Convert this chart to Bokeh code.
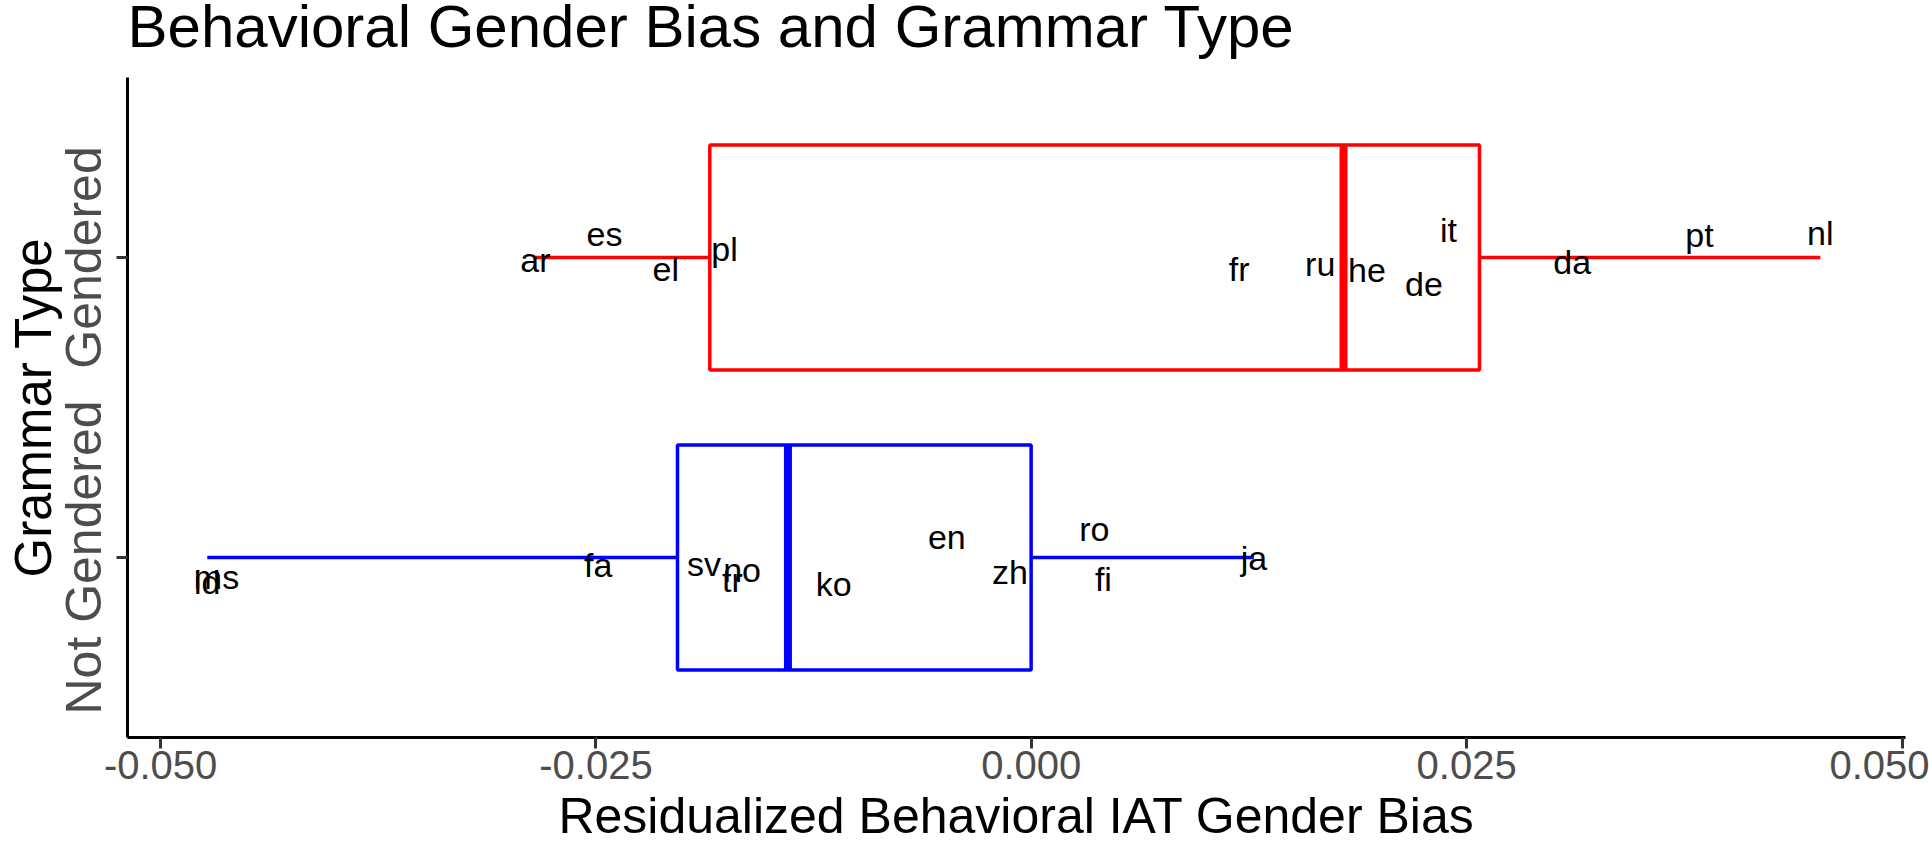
import numpy as np
from bokeh.plotting import figure
from bokeh.models import Range1d, FixedTicker, ColumnDataSource, Label
from bokeh.core.properties import value
from bokeh.embed import file_html
from bokeh.resources import INLINE

# ---------------- data ----------------
grammar_types = ["Not Gendered", "Gendered"]
type_colors = ["#0000FF", "#FF0000"]

gendered_langs = ["ar", "es", "el", "pl", "fr", "ru", "he", "de", "it", "da", "pt", "nl"]
gendered_bias = [-0.02848, -0.02451, -0.02099, -0.01762, 0.01194, 0.01659,
                 0.01927, 0.02255, 0.02396, 0.03106, 0.03837, 0.04531]
gendered_jitter = [-0.049, 0.040, -0.079, -0.012, -0.077, -0.060,
                   -0.082, -0.127, 0.051, -0.054, 0.034, 0.042]

notg_langs = ["ms", "id", "fa", "sv", "tr", "no", "ko", "en", "zh", "ro", "fi", "ja"]
notg_bias = [-0.04679, -0.04732, -0.02487, -0.01880, -0.01716, -0.01661,
             -0.01134, -0.00485, -0.00122, 0.00362, 0.00414, 0.01278]
notg_jitter = [-0.104, -0.123, -0.066, -0.063, -0.116, -0.082,
               -0.127, 0.029, -0.088, 0.054, -0.112, -0.043]

x_ticks = [-0.050, -0.025, 0.000, 0.025, 0.050]
x_tick_labels = ["-0.050", "-0.025", "0.000", "0.025", "0.050"]

FONT = "Liberation Sans"

p = figure(width=1929, height=846, output_backend="svg", toolbar_location=None,
           x_range=Range1d(-0.0519, 0.0502), y_range=Range1d(0.4, 2.6),
           min_border_left=127, min_border_right=24, min_border_top=77,
           min_border_bottom=109)
p.outline_line_color = None
p.xgrid.grid_line_color = None
p.ygrid.grid_line_color = None
p.background_fill_color = "white"
p.border_fill_color = "white"

# title as a label living in the "above" side panel (so it is not clipped to the frame)
title = Label(x=0, y=51, x_units="screen", y_units="screen",
              text="Behavioral Gender Bias and Grammar Type",
              text_font=FONT, text_font_size="60px", text_color="black",
              text_align="left", text_baseline="alphabetic")
p.add_layout(title, "above")

groups = [(notg_langs, notg_bias, notg_jitter), (gendered_langs, gendered_bias, gendered_jitter)]
half_w = 0.375
for gi, (langs, bias, jit) in enumerate(groups):
    pos = gi + 1
    color = type_colors[gi]
    b = np.array(bias)
    q1, med, q3 = np.percentile(b, [25, 50, 75])
    iqr = q3 - q1
    lo = b[b >= q1 - 1.5 * iqr].min()
    hi = b[b <= q3 + 1.5 * iqr].max()
    # whiskers
    p.segment(x0=[lo, q3], y0=[pos, pos], x1=[q1, hi], y1=[pos, pos],
              line_color=color, line_width=3.5)
    # box
    p.quad(left=[q1], right=[q3], bottom=[pos - half_w], top=[pos + half_w],
           fill_color=None, line_color=color, line_width=3.5)
    # median
    p.segment(x0=[med], y0=[pos - half_w], x1=[med], y1=[pos + half_w],
              line_color=color, line_width=8)
    src = ColumnDataSource(dict(x=list(bias), y=[pos + j for j in jit], t=list(langs)))
    p.text(x="x", y="y", text="t", source=src, text_font=value(FONT),
           text_font_size="34px", text_color="black", text_align="center",
           text_baseline="alphabetic", y_offset=-12)

# x axis
xa = p.xaxis[0]
xa.ticker = FixedTicker(ticks=x_ticks)
xa.major_label_overrides = {t: l for t, l in zip(x_ticks, x_tick_labels)}
xa.axis_label = "Residualized Behavioral IAT Gender Bias"
xa.axis_label_text_font = FONT
xa.axis_label_text_font_size = "50px"
xa.axis_label_text_font_style = "normal"
xa.axis_label_text_color = "black"
xa.axis_label_text_line_height = 1.0
xa.axis_label_standoff = 6
xa.major_label_text_font = FONT
xa.major_label_text_font_size = "40px"
xa.major_label_text_color = "#4D4D4D"
xa.major_label_text_line_height = 1.0
xa.major_label_standoff = 2

# y axis
ya = p.yaxis[0]
ya.ticker = FixedTicker(ticks=[1, 2])
ya.major_label_overrides = {1: grammar_types[0], 2: grammar_types[1]}
ya.major_label_orientation = "vertical"
ya.axis_label = "Grammar Type"
ya.axis_label_text_font = FONT
ya.axis_label_text_font_size = "51px"
ya.axis_label_text_font_style = "normal"
ya.axis_label_text_color = "black"
ya.axis_label_standoff = -9
ya.major_label_text_font = FONT
ya.major_label_text_font_size = "50px"
ya.major_label_text_color = "#4D4D4D"
ya.major_label_standoff = 5

for ax in (xa, ya):
    ax.axis_line_color = "black"
    ax.axis_line_width = 3
    ax.major_tick_line_color = "#333333"
    ax.major_tick_line_width = 3
    ax.major_tick_out = 11
    ax.major_tick_in = 0
    ax.minor_tick_line_color = None

open("out.html", "w").write(file_html(p, INLINE))
